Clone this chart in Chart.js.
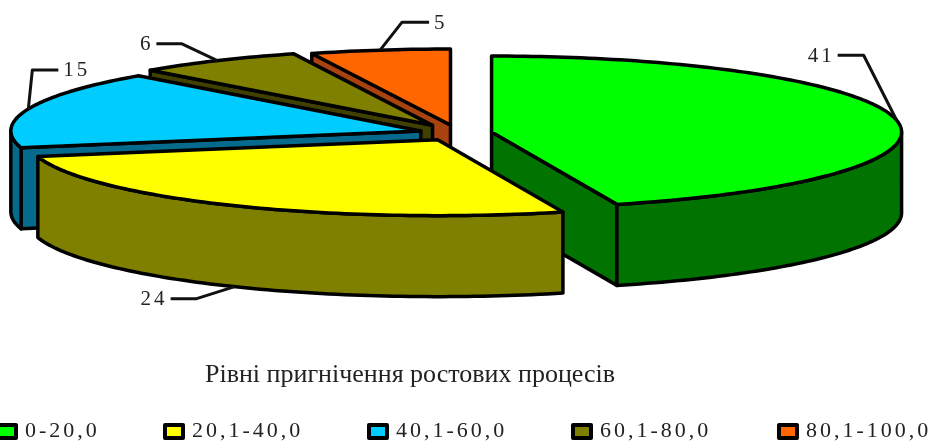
<!DOCTYPE html>
<html>
<head>
<meta charset="utf-8">
<script src="https://cdn.jsdelivr.net/npm/chart.js@4/dist/chart.umd.min.js"></script>
<style>
  html, body { margin: 0; padding: 0; background: #fff; overflow: hidden; }
  canvas { display: block; }
</style>
</head>
<body>
<canvas id="myChart" width="932" height="443"></canvas>
<script>
const categories = ['0-20,0', '20,1-40,0', '40,1-60,0', '60,1-80,0', '80,1-100,0'];
const values = [41, 24, 15, 6, 5];
const topColors = ['#00ff00', '#ffff00', '#00ccff', '#808000', '#ff6600'];
const wallColors = ['#007300', '#808000', '#066a8c', '#404000', '#a8420e'];
const sliceOffsets = [14, 17, 16, 20, 18];
const chartTitle = 'Рівні пригнічення ростових процесів';

// tilted view of the pie
const pie = { cx: 458, cy: 133, rx: 410, ry: 76, depth: 81 };
const paintOrder = [4, 3, 2, 0, 1];
// elbow and end of each leader line, relative to where it leaves the slice
const leaders = [
  { elbow: [-33, -65], end: -26, lift: 0 },
  { elbow: [-38, 12], end: -26, lift: 1 },
  { elbow: [4, -39], end: 26, lift: 0 },
  { elbow: [-36, -17], end: -25, lift: 0 },
  { elbow: [22, -28], end: 27, lift: 0 },
];
const legendX = [-4, 163, 367, 571, 777];
const legendY = 431;

function project(el, theta, r, dz) {
  const mid = (el.startAngle + el.endAngle) / 2;
  const sx = pie.rx / el.outerRadius;
  const sy = pie.ry / el.outerRadius;
  const off = el.options.offset;
  return [
    pie.cx + (Math.cos(mid) * off + Math.cos(theta) * r) * sx,
    pie.cy + (Math.sin(mid) * off + Math.sin(theta) * r) * sy + dz,
  ];
}

function arcPoints(el, from, to, dz) {
  const pts = [];
  const steps = Math.max(2, Math.ceil(Math.abs(to - from) / 0.02));
  for (let i = 0; i <= steps; i++) {
    pts.push(project(el, from + (to - from) * i / steps, el.outerRadius, dz));
  }
  return pts;
}

function fillPoly(ctx, pts, color) {
  ctx.beginPath();
  pts.forEach((p, i) => (i ? ctx.lineTo(p[0], p[1]) : ctx.moveTo(p[0], p[1])));
  ctx.closePath();
  ctx.fillStyle = color;
  ctx.fill();
  ctx.stroke();
}

function drawSlice(ctx, el, i) {
  const s = el.startAngle;
  const e = el.endAngle;
  const apex = project(el, s, 0, 0);
  const apexLow = project(el, s, 0, pie.depth);
  ctx.lineWidth = 3.5;
  ctx.lineJoin = 'round';
  ctx.strokeStyle = '#000';

  // radial faces turned towards the viewer
  if (Math.cos(s) < -0.001) {
    fillPoly(ctx, [apex, project(el, s, el.outerRadius, 0), project(el, s, el.outerRadius, pie.depth), apexLow], wallColors[i]);
  }
  if (Math.cos(e) > 0.001) {
    fillPoly(ctx, [apex, project(el, e, el.outerRadius, 0), project(el, e, el.outerRadius, pie.depth), apexLow], wallColors[i]);
  }
  // outer wall, only the part on the front half
  const from = Math.max(s, 0);
  const to = Math.min(e, Math.PI);
  if (to > from) {
    const upper = arcPoints(el, from, to, 0);
    const lower = arcPoints(el, to, from, pie.depth);
    fillPoly(ctx, upper.concat(lower), wallColors[i]);
  }
  fillPoly(ctx, [apex].concat(arcPoints(el, s, e, 0)), topColors[i]);
}

const pie3d = {
  id: 'pie3d',
  beforeDatasetDraw(chart, args) {
    const ctx = chart.ctx;
    const arcs = chart.getDatasetMeta(args.index).data;
    ctx.save();
    paintOrder.forEach((i) => drawSlice(ctx, arcs[i], i));
    ctx.restore();
    return false;
  },
  afterDatasetsDraw(chart) {
    const ctx = chart.ctx;
    const arcs = chart.getDatasetMeta(0).data;
    ctx.save();
    ctx.strokeStyle = '#111';
    ctx.lineWidth = 3;
    ctx.lineJoin = 'round';
    ctx.fillStyle = '#222';
    ctx.font = '21px "Liberation Serif"';
    ctx.letterSpacing = '3px';
    ctx.textBaseline = 'middle';
    arcs.forEach((el, i) => {
      const l = leaders[i];
      const mid = (el.startAngle + el.endAngle) / 2;
      const a = project(el, mid, el.outerRadius, l.lift ? pie.depth : 0);
      const bx = a[0] + l.elbow[0];
      const by = a[1] + l.elbow[1];
      ctx.beginPath();
      ctx.moveTo(a[0], a[1]);
      ctx.lineTo(bx, by);
      ctx.lineTo(bx + l.end, by);
      ctx.stroke();
      ctx.textAlign = l.end < 0 ? 'right' : 'left';
      ctx.fillText(String(values[i]), bx + l.end + (l.end < 0 ? -3 : 5), by + 1);
    });

    // legend row runs past the canvas edge, so it is laid out here
    ctx.font = '22px "Liberation Serif"';
    ctx.letterSpacing = '3px';
    ctx.textAlign = 'left';
    categories.forEach((name, i) => {
      ctx.fillStyle = topColors[i];
      ctx.strokeStyle = '#000';
      ctx.lineWidth = 4;
      ctx.beginPath();
      ctx.rect(legendX[i] + 2, legendY - 6, 18, 13);
      ctx.fill();
      ctx.stroke();
      ctx.fillStyle = '#222';
      ctx.fillText(name, legendX[i] + 29, legendY);
    });
    ctx.restore();
  },
};

const config = {
  type: 'pie',
  data: {
    labels: categories,
    datasets: [{
      data: values,
      backgroundColor: topColors,
      offset: sliceOffsets,
    }],
  },
  options: {
    responsive: false,
    animation: false,
    layout: { padding: { right: 112, bottom: 52 } },
    plugins: {
      legend: { display: false },
      tooltip: { enabled: false },
      title: {
        display: true,
        position: 'bottom',
        text: chartTitle,
        color: '#222',
        font: { family: '"Liberation Serif"', size: 26, weight: 'normal' },
        padding: 0,
      },
    },
  },
  plugins: [pie3d],
};

const myChart = new Chart(document.getElementById('myChart'), config);
</script>
</body>
</html>
